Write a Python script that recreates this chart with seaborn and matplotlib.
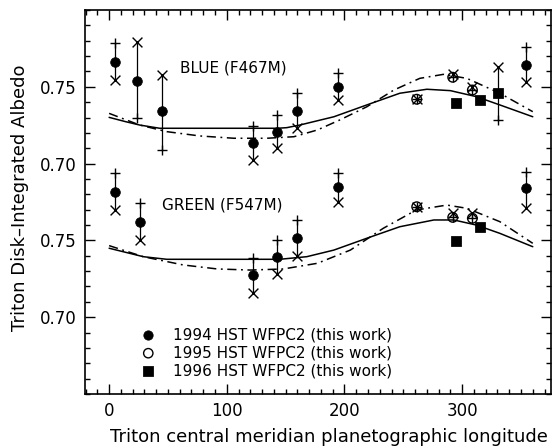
import numpy as np
import pandas as pd
import matplotlib
matplotlib.use("Agg")
import matplotlib.pyplot as plt
import seaborn as sns
from matplotlib.ticker import MultipleLocator, FixedLocator, FixedFormatter

# ---------------- data ----------------
GREEN_OFFSET = 0.10   # green panel is drawn 0.10 below the blue one

# BLUE (F467M)
blue94_lon = [5.1, 24.0, 44.8, 122.1, 143.0, 159.5, 194.8, 354.0]
blue94_alb = [0.7663, 0.7540, 0.7342, 0.7132, 0.7208, 0.7342, 0.7501, 0.7642]
blue95_lon = [261.4, 292.0, 308.7]
blue95_alb = [0.7419, 0.7562, 0.7479]
blue96_lon = [294.6, 315.2, 330.5]
blue96_alb = [0.7393, 0.7414, 0.7458]
blue_cmp_lon = [5.1, 24.0, 44.8, 122.1, 143.0, 159.5, 194.8, 261.4, 292.0, 308.7, 330.5, 354.0]
blue_plus = [0.7783, 0.7295, 0.7089, 0.7245, 0.7316, 0.7458, 0.7592, 0.7419, 0.7562, 0.7479, 0.7284, 0.7761]
blue_cross = [0.7544, 0.7794, 0.7577, 0.7023, 0.7100, 0.7234, 0.7414, 0.7419, 0.7583, 0.7497, 0.7631, 0.7533]

blue_solid_lon = [0, 14, 26, 43, 143, 151, 162, 191, 219, 247, 270, 290, 312, 332, 360]
blue_solid = [0.7301, 0.7273, 0.7251, 0.7230, 0.7230, 0.7234, 0.7251, 0.7305, 0.7382,
              0.7458, 0.7484, 0.7475, 0.7436, 0.7382, 0.7305]
blue_dd_lon = [0, 26, 49, 77, 106, 134, 157, 177, 196, 219, 242, 264, 284, 304, 332, 360]
blue_dd = [0.7327, 0.7251, 0.7208, 0.7180, 0.7165, 0.7165, 0.7175, 0.7219, 0.7284,
           0.7370, 0.7479, 0.7555, 0.7581, 0.7555, 0.7458, 0.7338]

# GREEN (F547M)
green94_lon = [5.1, 26.3, 122.1, 143.0, 159.5, 194.8, 354.0]
green94_alb = [0.7817, 0.7622, 0.7275, 0.7390, 0.7514, 0.7850, 0.7839]
green95_lon = [261.4, 292.0, 308.7]
green95_alb = [0.7719, 0.7650, 0.7644]
green96_lon = [294.6, 315.2]
green96_alb = [0.7498, 0.7589]
green_cmp_lon = [5.1, 26.3, 122.1, 143.0, 159.5, 194.8, 261.4, 292.0, 308.7, 354.0]
green_plus = [0.7937, 0.7742, 0.7383, 0.7503, 0.7633, 0.7937, 0.7719, 0.7650, 0.7644, 0.7947]
green_cross = [0.7698, 0.7503, 0.7160, 0.7280, 0.7398, 0.7752, 0.7719, 0.7676, 0.7676, 0.7709]

green_solid_lon = [0, 29, 49, 145, 168, 191, 219, 247, 276, 293, 312, 332, 360]
green_solid = [0.7449, 0.7394, 0.7377, 0.7377, 0.7394, 0.7437, 0.7514, 0.7589, 0.7633,
               0.7633, 0.7600, 0.7546, 0.7459]
green_dd_lon = [0, 29, 63, 92, 120, 148, 177, 205, 233, 261, 287, 304, 332, 360]
green_dd = [0.7466, 0.7394, 0.7340, 0.7314, 0.7307, 0.7314, 0.7351, 0.7437, 0.7579,
            0.7698, 0.7730, 0.7709, 0.7622, 0.7481]

ytick_pos = [0.75, 0.70, 0.65, 0.60]
ytick_lab = ["0.75", "0.70", "0.75", "0.70"]
xtick_pos = [0, 100, 200, 300]
legend_labels = ["1994 HST WFPC2 (this work)", "1995 HST WFPC2 (this work)",
                 "1996 HST WFPC2 (this work)"]

# ---------------- plot ----------------
sns.set_theme(style="ticks")
BLACK = "#000000"
plt.rcParams["font.family"] = ["DejaVu Sans"]
plt.rcParams["text.color"] = BLACK
plt.rcParams["axes.labelcolor"] = BLACK
plt.rcParams["xtick.color"] = BLACK
plt.rcParams["ytick.color"] = BLACK

fig = plt.figure(figsize=(5.55, 4.47), dpi=100)
ax = fig.add_axes([85 / 555, 1 - 394 / 447, 466 / 555, 384 / 447])

def shift(vals, off):
    return np.asarray(vals) - off

MS = 48
for off, d94l, d94a, d95l, d95a, d96l, d96a, cl, cp, cx, sl, sv, dl, dv, first in [
    (0.0, blue94_lon, blue94_alb, blue95_lon, blue95_alb, blue96_lon, blue96_alb,
     blue_cmp_lon, blue_plus, blue_cross, blue_solid_lon, blue_solid, blue_dd_lon, blue_dd, True),
    (GREEN_OFFSET, green94_lon, green94_alb, green95_lon, green95_alb, green96_lon, green96_alb,
     green_cmp_lon, green_plus, green_cross, green_solid_lon, green_solid, green_dd_lon, green_dd, False),
]:
    # model curves
    sns.lineplot(x=sl, y=shift(sv, off), ax=ax, color=BLACK, lw=1.1, sort=False,
                 estimator=None)
    sns.lineplot(x=dl, y=shift(dv, off), ax=ax, color=BLACK, lw=1.1, sort=False,
                 estimator=None)
    ax.lines[-1].set_dashes([6, 3, 1.2, 3])
    # connecting lines between + and x
    ax.vlines(cl, shift(cp, off), shift(cx, off), color=BLACK, lw=0.9)
    sns.scatterplot(x=cl, y=shift(cp, off), ax=ax, marker="+", s=60, color=BLACK, linewidth=1.0)
    sns.scatterplot(x=cl, y=shift(cx, off), ax=ax, marker="x", s=50, color=BLACK, linewidth=1.0)
    # observations
    sns.scatterplot(x=d94l, y=shift(d94a, off), ax=ax, marker="o", s=MS, color=BLACK,
                    edgecolor=BLACK, label=legend_labels[0] if first else None, zorder=5)
    sns.scatterplot(x=d95l, y=shift(d95a, off), ax=ax, marker="o", s=MS, color=BLACK,
                    edgecolor=BLACK, linewidth=1.0,
                    label=legend_labels[1] if first else None, zorder=5)
    ax.collections[-1].set_facecolor("none")
    sns.scatterplot(x=d96l, y=shift(d96a, off), ax=ax, marker="s", s=MS, color=BLACK,
                    edgecolor=BLACK, label=legend_labels[2] if first else None, zorder=5)

ax.text(60.3, 0.7622, "BLUE (F467M)", fontsize=11, ha="left", va="center")
ax.text(45.0, 0.6730, "GREEN (F547M)", fontsize=11, ha="left", va="center")

ax.set_xlim(-20.5, 375.5)
ax.set_ylim(0.55, 0.80)
ax.xaxis.set_major_locator(FixedLocator(xtick_pos))
ax.xaxis.set_minor_locator(MultipleLocator(10))
ax.yaxis.set_major_locator(FixedLocator(ytick_pos))
ax.yaxis.set_major_formatter(FixedFormatter(ytick_lab))
ax.yaxis.set_minor_locator(MultipleLocator(0.01))
ax.tick_params(which="both", direction="in", top=True, right=True, colors=BLACK,
               labelsize=12, width=1.0)
ax.tick_params(which="major", length=7, pad=6)
ax.tick_params(which="minor", length=3.5)
for s in ax.spines.values():
    s.set_linewidth(1.2)
    s.set_color(BLACK)

ax.set_xlabel("Triton central meridian planetographic longitude", fontsize=13)
ax.xaxis.set_label_coords(0.524, -0.088)
ax.set_ylabel("Triton Disk\u2013Integrated Albedo", fontsize=13)
ax.yaxis.set_label_coords(-0.12, 0.51)

handles, labels = ax.get_legend_handles_labels()
leg = ax.legend(handles, labels, loc="upper left", bbox_to_anchor=(0.103, 0.19),
                frameon=False, fontsize=11, handletextpad=1.0, handlelength=1.2,
                labelspacing=0.2, borderaxespad=0)
for h in leg.legend_handles:
    h.set_sizes([45])

fig.savefig("out.png", dpi=100)
